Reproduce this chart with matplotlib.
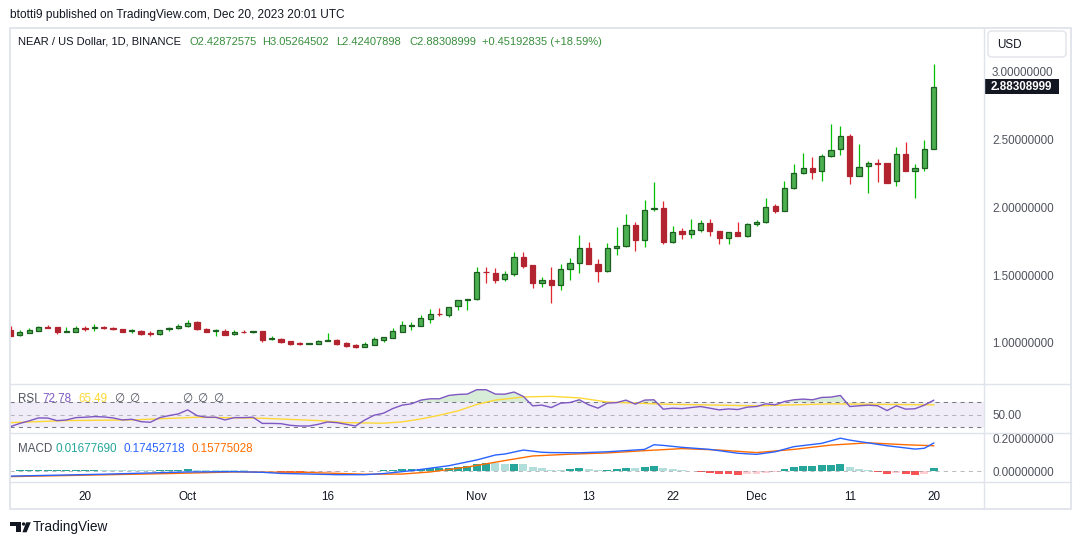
import numpy as np
import matplotlib
matplotlib.use("Agg")
import matplotlib.pyplot as plt
from matplotlib.patches import Rectangle, FancyBboxPatch, Circle, Polygon
from matplotlib.lines import Line2D
from matplotlib.transforms import blended_transform_factory

plt.rcParams['font.family'] = ['Liberation Sans', 'DejaVu Sans']

# --- daily candles, Sep 12 .. Dec 20 2023 (NEAR/USD, Binance) ---
opens = [1.096, 1.057, 1.076, 1.090, 1.117, 1.115, 1.084, 1.083, 1.110, 1.113,
         1.117, 1.110, 1.103, 1.086, 1.090, 1.073, 1.064, 1.103, 1.108, 1.123,
         1.152, 1.103, 1.086, 1.088, 1.064, 1.081, 1.084, 1.088, 1.032, 1.029,
         1.015, 0.997, 0.996, 0.995, 1.018, 1.022, 1.000, 0.985, 0.973, 0.988,
         1.022, 1.039, 1.083, 1.128, 1.127, 1.179, 1.212, 1.204, 1.270, 1.316,
         1.321, 1.521, 1.512, 1.468, 1.505, 1.630, 1.571, 1.439, 1.461, 1.424,
         1.542, 1.586, 1.696, 1.579, 1.527, 1.696, 1.711, 1.865, 1.760, 1.984,
         1.990, 1.740, 1.824, 1.799, 1.828, 1.880, 1.821, 1.770, 1.814, 1.789,
         1.873, 1.887, 2.007, 1.973, 2.138, 2.248, 2.284, 2.267, 2.373, 2.424,
         2.520, 2.230, 2.299, 2.323, 2.321, 2.189, 2.387, 2.262, 2.284, 2.42872575]
highs = [1.125, 1.093, 1.108, 1.125, 1.132, 1.118, 1.115, 1.125, 1.127, 1.140,
         1.127, 1.118, 1.104, 1.103, 1.098, 1.086, 1.098, 1.118, 1.137, 1.169,
         1.162, 1.110, 1.100, 1.103, 1.093, 1.093, 1.088, 1.090, 1.051, 1.037,
         1.017, 1.005, 1.002, 1.022, 1.074, 1.029, 1.007, 0.993, 1.007, 1.044,
         1.046, 1.110, 1.164, 1.157, 1.206, 1.250, 1.257, 1.264, 1.318, 1.322,
         1.557, 1.559, 1.551, 1.529, 1.669, 1.669, 1.571, 1.485, 1.559, 1.581,
         1.625, 1.794, 1.743, 1.615, 1.733, 1.853, 1.949, 1.890, 2.051, 2.184,
         2.044, 1.860, 1.846, 1.912, 1.904, 1.912, 1.822, 1.815, 1.890, 1.880,
         1.902, 2.069, 2.022, 2.191, 2.316, 2.397, 2.368, 2.390, 2.610, 2.596,
         2.534, 2.461, 2.336, 2.353, 2.322, 2.439, 2.478, 2.314, 2.493, 3.05264502]
lows = [1.050, 1.054, 1.074, 1.088, 1.108, 1.068, 1.079, 1.081, 1.090, 1.090,
        1.100, 1.096, 1.082, 1.076, 1.061, 1.054, 1.062, 1.090, 1.106, 1.121,
        1.098, 1.082, 1.054, 1.058, 1.062, 1.072, 1.072, 1.007, 1.024, 1.002,
        0.985, 0.985, 0.992, 0.992, 1.012, 0.985, 0.971, 0.963, 0.971, 0.986,
        1.010, 1.037, 1.081, 1.098, 1.125, 1.149, 1.200, 1.194, 1.240, 1.243,
        1.319, 1.443, 1.443, 1.453, 1.495, 1.554, 1.407, 1.414, 1.296, 1.392,
        1.465, 1.517, 1.579, 1.451, 1.525, 1.647, 1.709, 1.679, 1.708, 1.968,
        1.730, 1.738, 1.767, 1.774, 1.818, 1.789, 1.730, 1.726, 1.787, 1.782,
        1.858, 1.885, 1.954, 1.971, 2.130, 2.240, 2.208, 2.193, 2.371, 2.384,
        2.171, 2.225, 2.105, 2.186, 2.179, 2.157, 2.262, 2.068, 2.262, 2.42407898]
closes = [1.054, 1.079, 1.096, 1.115, 1.113, 1.083, 1.088, 1.108, 1.106, 1.117,
          1.113, 1.106, 1.083, 1.090, 1.068, 1.069, 1.093, 1.107, 1.123, 1.149,
          1.100, 1.083, 1.089, 1.061, 1.079, 1.078, 1.087, 1.024, 1.035, 1.010,
          0.995, 0.994, 0.999, 1.015, 1.021, 0.995, 0.978, 0.971, 0.993, 1.029,
          1.044, 1.088, 1.132, 1.131, 1.184, 1.213, 1.210, 1.262, 1.314, 1.319,
          1.520, 1.519, 1.461, 1.505, 1.630, 1.568, 1.439, 1.461, 1.424, 1.542,
          1.586, 1.696, 1.579, 1.527, 1.696, 1.711, 1.865, 1.760, 1.976, 1.990,
          1.740, 1.814, 1.799, 1.828, 1.880, 1.821, 1.770, 1.814, 1.789, 1.873,
          1.887, 1.998, 1.973, 2.138, 2.248, 2.284, 2.260, 2.373, 2.417, 2.520,
          2.230, 2.292, 2.321, 2.316, 2.179, 2.387, 2.262, 2.284, 2.424, 2.88308999]
last_change = 0.45192835
last_change_pct = 18.59

# --- RSI(14) per day and its moving average (read at visible vertices) ---
rsi = [31.0, 36.0, 40.0, 44.7, 44.5, 40.4, 41.5, 45.2, 45.8, 46.8,
       46.3, 44.7, 41.5, 42.6, 38.8, 37.8, 45.2, 48.4, 51.1, 57.5,
       48.4, 45.8, 45.8, 41.5, 45.2, 45.2, 45.8, 36.0, 36.0, 35.6,
       33.0, 31.9, 31.9, 34.6, 38.3, 37.2, 34.6, 31.9, 41.5, 49.0,
       52.2, 59.6, 65.0, 67.1, 73.0, 75.1, 75.1, 80.4, 82.0, 82.6,
       89.5, 89.5, 82.6, 82.4, 85.8, 78.8, 63.9, 65.0, 61.2, 68.2,
       69.2, 73.5, 65.5, 60.2, 68.2, 69.0, 73.0, 66.6, 73.0, 73.5,
       58.6, 60.2, 59.5, 61.2, 62.8, 60.2, 57.5, 59.0, 58.0, 61.8,
       62.8, 67.1, 65.5, 70.8, 73.5, 74.6, 73.5, 77.2, 77.8, 80.4,
       62.8, 64.0, 65.0, 64.0, 56.4, 64.0, 58.6, 59.3, 65.0, 72.78]
rsi_ma_day = [0, 6, 13, 20, 27, 33, 36, 40, 42, 44, 46, 48, 50, 52, 55, 58, 61, 64, 70, 80, 88, 99]
rsi_ma_val = [37.2, 40.5, 41.5, 45.8, 44.2, 40.5, 37.2, 36.3, 38.5, 43.0, 49.0, 56.0, 66.0,
              73.0, 78.0, 79.0, 76.5, 70.0, 66.6, 63.9, 67.1, 65.49]

# --- MACD(12,26,9) ---
macd_day = [0, 10, 19, 24, 27, 29, 35, 38, 40, 43, 47, 50, 52, 53, 55, 57, 58, 61, 64, 68,
            69, 70, 72, 75, 78, 80, 82, 84, 87, 89, 90, 94, 97, 98, 99]
macd_val = [-0.032, -0.020, -0.006, -0.004, -0.008, -0.015, -0.023, -0.023, -0.016, 0.002,
            0.033, 0.069, 0.100, 0.106, 0.131, 0.117, 0.115, 0.114, 0.120, 0.135,
            0.164, 0.160, 0.148, 0.135, 0.111, 0.104, 0.120, 0.152, 0.173, 0.205,
            0.193, 0.158, 0.137, 0.142, 0.17452718]
signal_day = [0, 17, 24, 31, 38, 42, 45, 49, 53, 56, 60, 64, 68, 72, 76, 80, 84, 88, 92, 96, 99]
signal_val = [-0.035, -0.016, -0.006, -0.008, -0.020, -0.019, -0.006, 0.025, 0.065, 0.094,
              0.105, 0.113, 0.127, 0.140, 0.131, 0.115, 0.135, 0.162, 0.176, 0.164, 0.15775028]
hist = [0.003, 0.0035, 0.004, 0.0045, 0.005, 0.0052, 0.0055, 0.006, 0.0065, 0.007,
        0.0065, 0.006, 0.005, 0.0045, 0.004, 0.0035, 0.004, 0.005, 0.006, 0.010,
        0.009, 0.008, 0.007, 0.006, 0.005, 0.004, 0.003, -0.002, -0.003, -0.004,
        -0.005, -0.006, -0.0055, -0.005, -0.0045, -0.004, -0.003, -0.002, -0.001, 0.002,
        0.005, 0.008, 0.011, 0.013, 0.015, 0.017, 0.018, 0.020, 0.022, 0.030,
        0.042, 0.048, 0.047, 0.045, 0.046, 0.043, 0.023, 0.017, 0.006, 0.005,
        0.012, 0.017, 0.012, 0.006, 0.007, 0.012, 0.019, 0.018, 0.025, 0.031,
        0.019, 0.012, 0.006, -0.002, -0.005, -0.011, -0.017, -0.018, -0.023, -0.017,
        -0.016, -0.011, -0.004, 0.012, 0.025, 0.030, 0.031, 0.037, 0.038, 0.044,
        0.025, 0.012, 0.006, -0.005, -0.017, -0.011, -0.017, -0.023, -0.017, 0.0167769]

price_ticks = [1.0, 1.5, 2.0, 2.5, 3.0]
time_tick_day = [8, 19, 34, 50, 62, 71, 80, 90, 99]
time_tick_lbl = ["20", "Oct", "16", "Nov", "13", "22", "Dec", "11", "20"]

# --- layout helpers (pixel based) ---
W, H = 1080, 545
X0PX, DX = 10.5, 9.325          # pixel of first candle, pixels per day
PANE_L, PANE_R = 10, 984
TXT = '#131722'
AXTXT = '#50535e'
GRIDC = '#e0e3eb'
FS = 8.4


def frect(x0, y0, x1, y1):
    return [x0 / W, 1 - y1 / H, (x1 - x0) / W, (y1 - y0) / H]


xlim = ((PANE_L - X0PX) / DX, (PANE_R - X0PX) / DX)

fig = plt.figure(figsize=(W / 100, H / 100), dpi=100)
fig.patch.set_facecolor('white')


def style_pane(ax):
    ax.set_xlim(*xlim)
    ax.set_facecolor('none')
    for s in ax.spines.values():
        s.set_visible(False)
    ax.yaxis.tick_right()
    ax.tick_params(axis='y', length=0, pad=5.8, labelsize=FS, labelcolor=AXTXT)
    ax.tick_params(axis='x', length=0)


days = np.arange(len(closes))
o, hi, lo, c = (np.array(a) for a in (opens, highs, lows, closes))
up = c >= o

# price pane
ax_p = fig.add_axes(frect(PANE_L, 27.5, PANE_R, 384.3))
style_pane(ax_p)
ax_p.set_ylim(0.6963, 3.320)
ax_p.vlines(days, lo, hi, colors=np.where(up, '#00c000', '#e0262f'), lw=0.9, zorder=2)
ax_p.bar(days, np.maximum(np.abs(c - o), 0.006), bottom=np.minimum(o, c), width=0.56,
         color=np.where(up, '#4caf50', '#b2242f'),
         edgecolor=np.where(up, '#1b5e20', '#b2242f'), linewidth=0.9, zorder=3)
ax_p.set_xticks([])
ax_p.set_yticks(price_ticks)
ax_p.set_yticklabels([f"{t:.8f}" for t in price_ticks])

# last price tag on the price scale
pane_w = PANE_R - PANE_L
tag_tr = blended_transform_factory(ax_p.transAxes, ax_p.transData)
tag_h = 15 / 356.8 * (3.320 - 0.6963)
ax_p.add_patch(Rectangle((1.0, closes[-1] - tag_h / 2), 75 / pane_w, tag_h, transform=tag_tr,
                         fc=TXT, ec='none', clip_on=False, zorder=5))
ax_p.text(1.0 + 37.5 / pane_w, closes[-1], f"{closes[-1]:.8f}", transform=tag_tr,
          ha='center', va='center', fontsize=FS, fontweight='bold', color='white',
          clip_on=False, zorder=6)

# RSI pane
ax_r = fig.add_axes(frect(PANE_L, 384.3, PANE_R, 433.3))
style_pane(ax_r)
ax_r.set_ylim(20.3, 98.1)
ax_r.axhspan(30, 70, color='#7e57c2', alpha=0.1, lw=0)
ax_r.axhline(70, color='#787b86', lw=0.75, ls=(0, (4, 4)))
ax_r.axhline(50, color='#787b86', lw=0.75, ls=(0, (4, 4)), alpha=0.5)
ax_r.axhline(30, color='#787b86', lw=0.75, ls=(0, (4, 4)))
rsi_arr = np.array(rsi)
ax_r.fill_between(days, rsi_arr, 70, where=rsi_arr > 70, interpolate=True,
                  color='#4caf50', alpha=0.22, lw=0)
ax_r.plot(rsi_ma_day, rsi_ma_val, color='#fdd835', lw=1.0)
ax_r.plot(days, rsi_arr, color='#7e57c2', lw=1.0)
ax_r.set_xticks([])
ax_r.set_yticks([50])
ax_r.set_yticklabels(["50.00"])

# MACD pane
ax_m = fig.add_axes(frect(PANE_L, 433.3, PANE_R, 482.3))
style_pane(ax_m)
ax_m.set_ylim(-0.0706, 0.2356)
ax_m.axhline(0, color='#787b86', lw=0.75, ls=(0, (4, 4)), alpha=0.5)
hcol = []
prev = None
for v in hist:
    grow = prev is None or v > prev
    if v >= 0:
        hcol.append('#26a69a' if grow else '#b2dfdb')
    else:
        hcol.append('#ffcdd2' if grow else '#ff5252')
    prev = v
ax_m.bar(days, hist, width=0.85, color=hcol, lw=0)
ax_m.plot(signal_day, signal_val, color='#ff6d00', lw=1.0)
ax_m.plot(macd_day, macd_val, color='#2962ff', lw=1.0)
ax_m.set_yticks([0.0, 0.2])
ax_m.set_yticklabels(["0.00000000", "0.20000000"])
ax_m.set_xticks(time_tick_day)
ax_m.set_xticklabels(time_tick_lbl)
ax_m.tick_params(axis='x', pad=6.5, labelsize=FS, labelcolor=TXT)

# overlay in pixel coordinates for frame, separators and captions
ov = fig.add_axes([0, 0, 1, 1])
ov.set_xlim(0, W)
ov.set_ylim(H, 0)
ov.axis('off')
ov.add_patch(Rectangle((9.5, 27.5), 1061, 481, fill=False, ec=GRIDC, lw=1.3))
ov.add_line(Line2D([984, 984], [27.5, 508.5], color=GRIDC, lw=1.0))
for yy in (384.3, 433.3, 482.3):
    ov.add_line(Line2D([9.5, 1070.5], [yy, yy], color=GRIDC, lw=1.0))
ov.add_patch(FancyBboxPatch((988, 31), 78, 26, boxstyle='round,pad=0,rounding_size=4',
                            ec=GRIDC, fc='white', lw=1.0))
ov.text(997, 44.5, "USD", fontsize=FS, color=TXT, va='center', ha='left')

ov.text(10, 15, "btotti9 published on TradingView.com, Dec 20, 2023 20:01 UTC",
        fontsize=8.6, color=TXT, va='center', ha='left')

green_txt = '#388e3c'
legend_parts = [(18, "NEAR / US Dollar, 1D, BINANCE", TXT),
                (190, f"O{opens[-1]:.8f}", green_txt),
                (262, f"H{highs[-1]:.8f}", green_txt),
                (336, f"L{lows[-1]:.8f}", green_txt),
                (409, f"C{closes[-1]:.8f}", green_txt),
                (482, f"+{last_change:.8f} (+{last_change_pct:.2f}%)", green_txt)]
for x, s, col in legend_parts:
    ov.text(x, 42, s, fontsize=8.0, color=col, va='center', ha='left')

rsi_parts = [(18, "RSI", '#50535e'), (42, f"{rsi[-1]:.2f}", '#7e57c2'),
             (78, f"{rsi_ma_val[-1]:.2f}", '#fdd835'), (114, "\u2205", '#50535e'),
             (129, "\u2205", '#50535e'), (182, "\u2205", '#50535e'),
             (197, "\u2205", '#50535e'), (213, "\u2205", '#50535e')]
for x, s, col in rsi_parts:
    ov.text(x, 399.3, s, fontsize=FS, color=col, va='center', ha='left')

macd_parts = [(18, "MACD", '#50535e'), (55, f"{hist[-1]:.8f}", '#26a69a'),
              (124, f"{macd_val[-1]:.8f}", '#2962ff'), (192, f"{signal_val[-1]:.8f}", '#ff6d00')]
for x, s, col in macd_parts:
    ov.text(x, 449, s, fontsize=FS, color=col, va='center', ha='left')

# TradingView logo + wordmark
ov.add_patch(Rectangle((10, 522.3), 10.7, 3.4, fc=TXT, ec='none'))
ov.add_patch(Rectangle((15.7, 522.3), 5.0, 10.0, fc=TXT, ec='none'))
ov.add_patch(Circle((23.6, 524.0), 1.7, fc=TXT, ec='none'))
ov.add_patch(Polygon([(26.2, 522.3), (30.8, 522.3), (26.6, 532.3), (22.4, 532.3)], fc=TXT, ec='none'))
ov.text(32.5, 527.3, "TradingView", fontsize=9.8, color=TXT, va='center', ha='left')

fig.savefig("out.png", dpi=100, facecolor='white')
